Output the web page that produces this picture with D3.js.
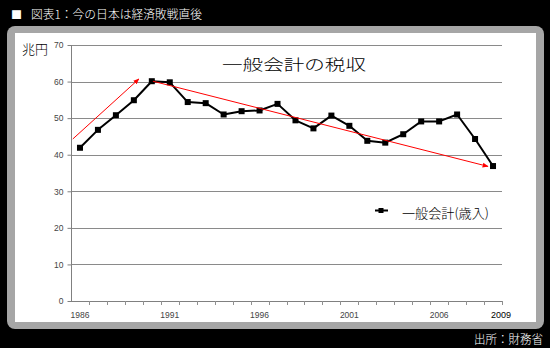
<!DOCTYPE html>
<html>
<head>
<meta charset="utf-8">
<script src="https://cdn.jsdelivr.net/npm/d3@7"></script>
<style>
  html, body { margin: 0; padding: 0; background: #000; }
  svg { display: block; }
</style>
</head>
<body>
<svg id="chart" width="550" height="348"></svg>
<script>
// Fiscal years and general-account tax revenue (trillion yen)
const years = d3.range(1986, 2010);
const revenue = [41.9, 46.8, 50.8, 54.9, 60.1, 59.8, 54.4, 54.1, 51.0, 51.9,
                 52.1, 53.9, 49.4, 47.2, 50.7, 47.9, 43.8, 43.3, 45.6, 49.1,
                 49.1, 51.0, 44.3, 36.9];
const yTicks = [0, 10, 20, 30, 40, 50, 60, 70];
const xLabels = [1986, 1991, 1996, 2001, 2006];
const lastLabel = 2009;

// Trend arrows, given as [year, value] pairs
const trendFrom = [[1985.6, 44.3], [1990.06, 60.1]];
const trendTo   = [[1989.28, 60.7], [2008.72, 36.8]];

const headerText = "図表1：今の日本は経済敗戦直後";
const chartTitle = "一般会計の税収";
const unitLabel = "兆円";
const seriesName = "一般会計(歳入)";
const sourceText = "出所：財務省";

const svg = d3.select("#chart");
const jp = "'Noto Sans CJK JP', 'Noto Sans', sans-serif";
const latin = "'Liberation Sans', Arial, sans-serif";

// Page background and header
svg.append("rect").attr("width", 550).attr("height", 348).attr("fill", "#000");
svg.append("text").attr("x", 11).attr("y", 19)
  .attr("font-family", jp).attr("font-size", 11).attr("fill", "#fff").text("■");
svg.append("text").attr("x", 31).attr("y", 19)
  .attr("font-family", jp).attr("font-size", 12).attr("font-weight", 300).attr("fill", "#fff")
  .attr("textLength", 171).attr("lengthAdjust", "spacingAndGlyphs")
  .text(headerText);

// Gray framed panel
svg.append("rect").attr("x", 7).attr("y", 26).attr("width", 537).attr("height", 303)
  .attr("rx", 8).attr("fill", "#a6a6a6");
svg.append("rect").attr("x", 15).attr("y", 33).attr("width", 521).attr("height", 289)
  .attr("fill", "#fff");

// Scales
const x = d3.scaleBand().domain(years).range([71, 502]).padding(0);
const bw = x.bandwidth();
const xc = d3.scaleLinear().domain([years[0], years[years.length - 1]])
  .range([x(years[0]) + bw / 2, x(years[years.length - 1]) + bw / 2]);
const y = d3.scaleLinear().domain([0, 70]).range([301, 45]);

// Gridlines
svg.append("g").selectAll("line").data(yTicks.filter(v => v > 0)).join("line")
  .attr("x1", 71).attr("x2", 502)
  .attr("y1", d => Math.round(y(d)) + 0.5).attr("y2", d => Math.round(y(d)) + 0.5)
  .attr("stroke", "#8a8a8a").attr("stroke-width", 1);

// Y axis
const yAxis = svg.append("g").attr("transform", "translate(71.5,0)")
  .call(d3.axisLeft(y).tickValues(yTicks).tickSize(4).tickPadding(4));
yAxis.selectAll("path, line").attr("stroke", "#808080");
yAxis.select(".domain").attr("d", `M0,${y(70)}V${y(0)}`);
yAxis.selectAll("text").attr("font-family", latin).attr("font-size", 8.5)
  .attr("fill", "#444");

// X axis baseline and boundary ticks
const bounds = years.map(d => x(d)).concat([x.range()[1]]);
svg.append("line").attr("x1", 71).attr("x2", 502)
  .attr("y1", Math.round(y(0)) + 0.5).attr("y2", Math.round(y(0)) + 0.5)
  .attr("stroke", "#808080");
svg.append("g").selectAll("line").data(bounds.slice(1)).join("line")
  .attr("x1", d => Math.round(d) + 0.5).attr("x2", d => Math.round(d) + 0.5)
  .attr("y1", Math.round(y(0))).attr("y2", Math.round(y(0)) + 4)
  .attr("stroke", "#909090");

svg.append("g").selectAll("text").data(xLabels).join("text")
  .attr("x", d => x(d) + bw / 2).attr("y", 318)
  .attr("text-anchor", "middle").attr("font-family", latin).attr("font-size", 8.5)
  .attr("fill", "#444").text(d => d);
svg.append("text").attr("x", x.range()[1] - 1).attr("y", 318)
  .attr("text-anchor", "middle").attr("font-family", latin).attr("font-size", 9)
  .attr("fill", "#000").text(lastLabel);

// Unit label and title
svg.append("text").attr("x", 22).attr("y", 54)
  .attr("font-family", jp).attr("font-size", 13).attr("font-weight", 300).attr("fill", "#000")
  .attr("textLength", 26).attr("lengthAdjust", "spacingAndGlyphs").text(unitLabel);
svg.append("text").attr("x", 222).attr("y", 70)
  .attr("font-family", jp).attr("font-size", 15).attr("font-weight", 300).attr("fill", "#000")
  .attr("textLength", 144).attr("lengthAdjust", "spacingAndGlyphs").text(chartTitle);

// Arrowhead marker
svg.append("defs").append("marker")
  .attr("id", "arrowhead").attr("viewBox", "0 0 10 10")
  .attr("refX", 9).attr("refY", 5).attr("markerWidth", 6).attr("markerHeight", 6)
  .attr("markerUnits", "userSpaceOnUse").attr("orient", "auto")
  .append("path").attr("d", "M0,1L10,5L0,9Z").attr("fill", "#ff0000");

// Data line and markers
const line = d3.line().x((d, i) => x(years[i]) + bw / 2).y(d => y(d));
svg.append("path").datum(revenue).attr("d", line)
  .attr("fill", "none").attr("stroke", "#000").attr("stroke-width", 2)
  .attr("stroke-linejoin", "round");
svg.append("g").selectAll("rect").data(revenue).join("rect")
  .attr("x", (d, i) => x(years[i]) + bw / 2 - 3)
  .attr("y", d => y(d) - 3)
  .attr("width", 6).attr("height", 6).attr("fill", "#000");

// Trend arrows
svg.append("g").selectAll("line").data(trendFrom).join("line")
  .attr("x1", d => xc(d[0])).attr("y1", d => y(d[1]))
  .attr("x2", (d, i) => xc(trendTo[i][0])).attr("y2", (d, i) => y(trendTo[i][1]))
  .attr("stroke", "#ff0000").attr("stroke-width", 1)
  .attr("marker-end", "url(#arrowhead)");

// Legend
svg.append("line").attr("x1", 375).attr("x2", 388).attr("y1", 210.5).attr("y2", 210.5)
  .attr("stroke", "#000").attr("stroke-width", 2);
svg.append("rect").attr("x", 378.5).attr("y", 208).attr("width", 5).attr("height", 5)
  .attr("fill", "#000");
svg.append("text").attr("x", 402).attr("y", 218)
  .attr("font-family", jp).attr("font-size", 13).attr("font-weight", 300).attr("fill", "#000")
  .attr("textLength", 87).attr("lengthAdjust", "spacingAndGlyphs").text(seriesName);

// Source note
svg.append("text").attr("x", 474).attr("y", 344)
  .attr("font-family", jp).attr("font-size", 12).attr("font-weight", 300).attr("fill", "#fff")
  .attr("textLength", 69).attr("lengthAdjust", "spacingAndGlyphs").text(sourceText);
</script>
</body>
</html>
